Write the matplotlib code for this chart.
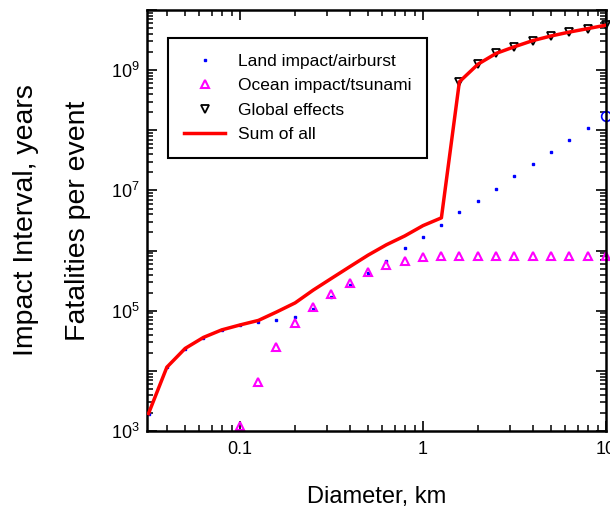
import math
import matplotlib
matplotlib.use("Agg")
import matplotlib.pyplot as plt
from matplotlib.ticker import LogLocator, FixedLocator, FuncFormatter, NullFormatter

# diameters in km, 0.1 decade steps
diameter = [0.0316, 0.0398, 0.0501, 0.0631, 0.0794, 0.1, 0.126, 0.158, 0.2, 0.251,
            0.316, 0.398, 0.501, 0.631, 0.794, 1.0, 1.26, 1.58, 2.0, 2.51,
            3.16, 3.98, 5.01, 6.31, 7.94, 10.0]

# fatalities per event
land = [1950, 11500, 23100, 34700, 48000, 57800, 65500, 69000, 78000, 108000,
        170000, 268000, 425000, 680000, 1.1e6, 1.7e6, 2.7e6, 4.3e6, 6.8e6, 1.07e7,
        1.74e7, 2.75e7, 4.35e7, 6.9e7, 1.1e8]
land_last_d = [10.0]
land_last = [1.7e8]

ocean_d = diameter[5:]
ocean = [1200, 6600, 25000, 63000, 114000, 190000, 290000, 435000, 580000, 680000,
         770000, 810000, 810000, 810000, 810000, 810000, 810000, 810000, 810000, 810000,
         810000]

global_d = diameter[17:]
global_eff = [6.4e8, 1.26e9, 1.9e9, 2.45e9, 3.1e9, 3.7e9, 4.3e9, 4.9e9, 5.6e9]

sum_all = [1950, 11500, 23600, 36000, 48000, 58000, 69000, 95000, 135000, 220000,
           345000, 540000, 840000, 1.25e6, 1.75e6, 2.6e6, 3.5e6, 6.4e8, 1.26e9, 1.9e9,
           2.45e9, 3.1e9, 3.7e9, 4.3e9, 4.9e9, 5.6e9]

plt.rcParams['font.family'] = ['Liberation Sans', 'DejaVu Sans']
plt.rcParams['mathtext.fontset'] = 'custom'
plt.rcParams['mathtext.rm'] = 'Liberation Sans'

fig = plt.figure(figsize=(6.10, 5.14), dpi=100)
ax = fig.add_axes([147 / 610, 1 - 431 / 514, 459 / 610, 421 / 514])

ax.plot(diameter[:25], land, linestyle='none', marker='s', markersize=1.8,
        color='#0000ff', label='Land impact/airburst')
ax.plot(land_last_d, land_last, linestyle='none', marker='o', markersize=7,
        mfc='none', mec='#0000ff', mew=1.2, clip_on=False)
ax.plot(ocean_d, ocean, linestyle='none', marker='^', markersize=5.5,
        mfc='none', mec='#ff00ff', mew=1.5, label='Ocean impact/tsunami', clip_on=False)
ax.plot(global_d, global_eff, linestyle='none', marker='v', markersize=5.5,
        mfc='none', mec='black', mew=1.3, label='Global effects', clip_on=False)
ax.plot(diameter, sum_all, color='#ff0000', linewidth=2.5, label='Sum of all', zorder=5)

ax.set_xscale('log')
ax.set_yscale('log')
ax.set_xlim(0.031, 10)
ax.set_ylim(1e3, 1e10)


def ylab(v, p):
    k = round(math.log10(v))
    return r'$\mathregular{10^{%d}}$' % k if k % 2 == 1 else ''


ax.xaxis.set_major_locator(FixedLocator([0.1, 1, 10]))
ax.xaxis.set_major_formatter(FuncFormatter(lambda v, p: '%g' % v))
ax.xaxis.set_minor_locator(LogLocator(base=10, subs=range(2, 10), numticks=20))
ax.xaxis.set_minor_formatter(NullFormatter())

ax.yaxis.set_major_locator(FixedLocator([10.0 ** k for k in range(3, 11)]))
ax.yaxis.set_major_formatter(FuncFormatter(ylab))
ax.yaxis.set_minor_locator(LogLocator(base=10, subs=range(2, 10), numticks=20))
ax.yaxis.set_minor_formatter(NullFormatter())

ax.tick_params(which='both', direction='in', top=True, right=True, colors='black')
ax.tick_params(which='major', length=7, width=1.2, labelsize=13)
ax.tick_params(which='minor', length=4, width=1.1)
ax.tick_params(axis='x', which='major', pad=7)
ax.tick_params(axis='y', which='major', pad=5)
for s in ax.spines.values():
    s.set_linewidth(1.8)

ax.set_xlabel('Diameter, km', fontsize=17, labelpad=20)
ax.text(-0.1503, 0.5, 'Fatalities per event', rotation=90, ha='center', va='center',
        fontsize=20.5, transform=ax.transAxes)
ax.text(-0.2636, 0.5, 'Impact Interval, years', rotation=90, ha='center', va='center',
        fontsize=20.5, transform=ax.transAxes)

leg = ax.legend(loc='upper left', bbox_to_anchor=(0.046, 0.933), borderaxespad=0,
                fontsize=12.5, fancybox=False, framealpha=1, edgecolor='black',
                handlelength=2.4, handletextpad=0.7, borderpad=0.9, labelspacing=0.53)
leg.get_frame().set_linewidth(1.5)

fig.savefig('out.png', dpi=100)
